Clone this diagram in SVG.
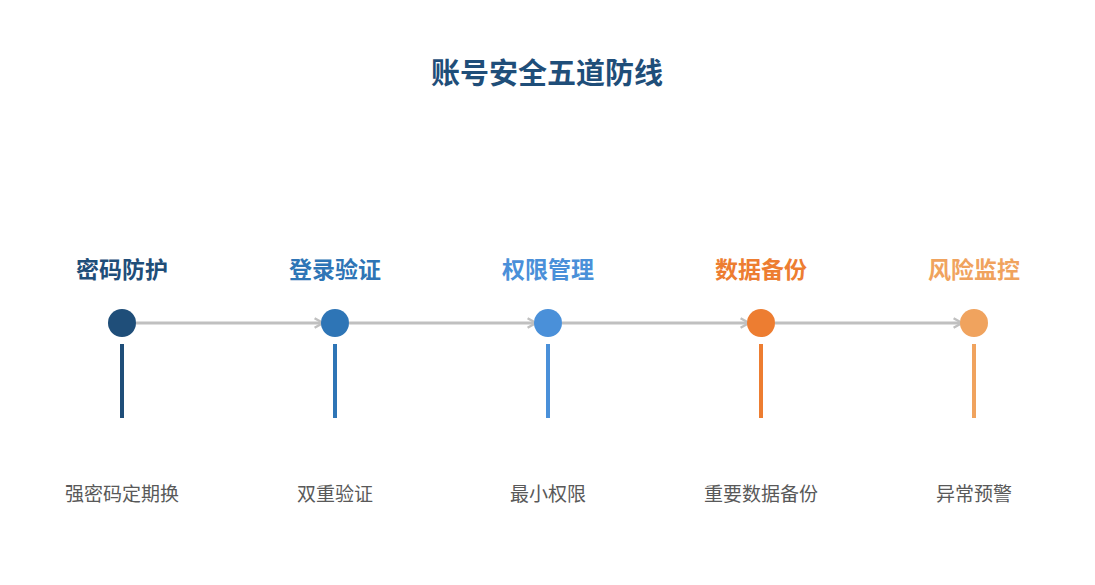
<svg xmlns="http://www.w3.org/2000/svg" width="1095" height="585" viewBox="0 0 1095 585">
<style>
text{font-family:"Noto Sans CJK SC","Liberation Sans",sans-serif;text-anchor:middle}
.title{font-size:29px;font-weight:bold;fill:#1f4e79}
.lbl{font-size:23px;font-weight:bold}
.desc{font-size:19px;fill:#595959}
.conn{stroke:#c0c0c0;stroke-width:3;fill:none}
.stem{stroke-width:4}
</style>
<defs>
<marker id="arr" viewBox="0 0 10 10" refX="8" refY="5" markerWidth="4" markerHeight="4" orient="auto" markerUnits="strokeWidth">
<path d="M1,1 L8,5 L1,9" fill="none" stroke="#c0c0c0" stroke-width="2"/>
</marker>
</defs>
<rect width="1095" height="585" fill="#ffffff"/>
<text class="title" x="547" y="84">账号安全五道防线</text>
<g id="connectors">
<line class="conn" x1="136" y1="323" x2="323" y2="323" marker-end="url(#arr)"/>
<line class="conn" x1="349" y1="323" x2="536" y2="323" marker-end="url(#arr)"/>
<line class="conn" x1="562" y1="323" x2="749" y2="323" marker-end="url(#arr)"/>
<line class="conn" x1="775" y1="323" x2="962" y2="323" marker-end="url(#arr)"/>
</g>
<g id="n1">
<text class="lbl" x="122" y="278" fill="#1f4e79">密码防护</text>
<circle cx="122" cy="323" r="14" fill="#1f4e79"/>
<line class="stem" x1="122" y1="344" x2="122" y2="418" stroke="#1f4e79"/>
<text class="desc" x="122" y="501">强密码定期换</text>
</g>
<g id="n2">
<text class="lbl" x="335" y="278" fill="#2e75b6">登录验证</text>
<circle cx="335" cy="323" r="14" fill="#2e75b6"/>
<line class="stem" x1="335" y1="344" x2="335" y2="418" stroke="#2e75b6"/>
<text class="desc" x="335" y="501">双重验证</text>
</g>
<g id="n3">
<text class="lbl" x="548" y="278" fill="#4a90d9">权限管理</text>
<circle cx="548" cy="323" r="14" fill="#4a90d9"/>
<line class="stem" x1="548" y1="344" x2="548" y2="418" stroke="#4a90d9"/>
<text class="desc" x="548" y="501">最小权限</text>
</g>
<g id="n4">
<text class="lbl" x="761" y="278" fill="#ed7d31">数据备份</text>
<circle cx="761" cy="323" r="14" fill="#ed7d31"/>
<line class="stem" x1="761" y1="344" x2="761" y2="418" stroke="#ed7d31"/>
<text class="desc" x="761" y="501">重要数据备份</text>
</g>
<g id="n5">
<text class="lbl" x="974" y="278" fill="#f0a35e">风险监控</text>
<circle cx="974" cy="323" r="14" fill="#f0a35e"/>
<line class="stem" x1="974" y1="344" x2="974" y2="418" stroke="#f0a35e"/>
<text class="desc" x="974" y="501">异常预警</text>
</g>
</svg>
